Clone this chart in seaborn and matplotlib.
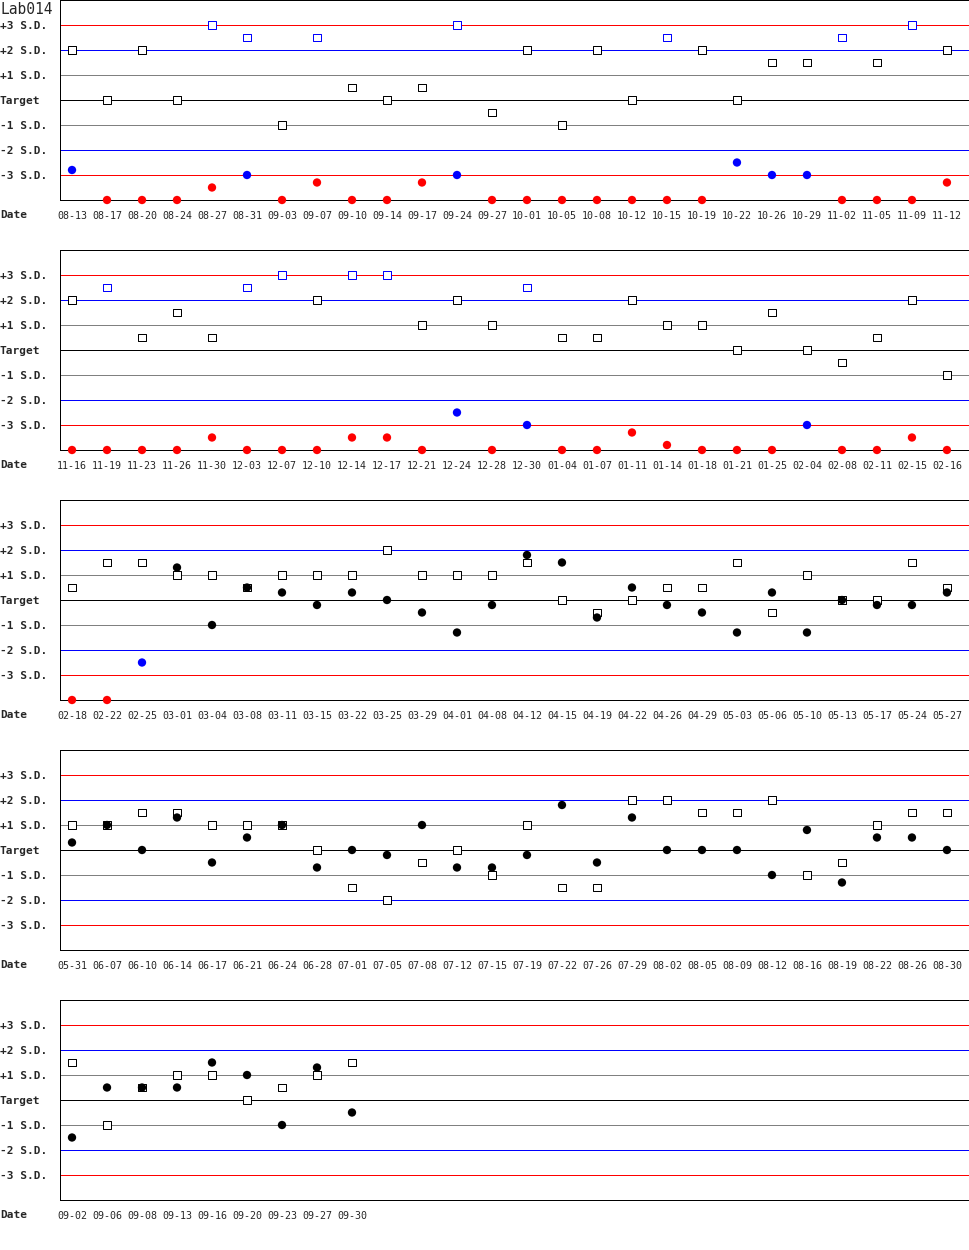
import matplotlib
matplotlib.use("Agg")
import matplotlib.pyplot as plt
import seaborn as sns
import pandas as pd

# control (open squares) and result (dots) in S.D. units, one block per row of the chart
dates1 = ['08-13', '08-17', '08-20', '08-24', '08-27', '08-31', '09-03', '09-07', '09-10',
          '09-14', '09-17', '09-24', '09-27', '10-01', '10-05', '10-08', '10-12', '10-15',
          '10-19', '10-22', '10-26', '10-29', '11-02', '11-05', '11-09', '11-12']
control1 = [2, 0, 2, 0, 3, 2.5, -1, 2.5, 0.5, 0, 0.5, 3, -0.5, 2, -1, 2, 0, 2.5, 2, 0,
            1.5, 1.5, 2.5, 1.5, 3, 2]
result1 = [-2.8, -4, -4, -4, -3.5, -3, -4, -3.3, -4, -4, -3.3, -3, -4, -4, -4, -4, -4, -4,
           -4, -2.5, -3, -3, -4, -4, -4, -3.3]

dates2 = ['11-16', '11-19', '11-23', '11-26', '11-30', '12-03', '12-07', '12-10', '12-14',
          '12-17', '12-21', '12-24', '12-28', '12-30', '01-04', '01-07', '01-11', '01-14',
          '01-18', '01-21', '01-25', '02-04', '02-08', '02-11', '02-15', '02-16']
control2 = [2, 2.5, 0.5, 1.5, 0.5, 2.5, 3, 2, 3, 3, 1, 2, 1, 2.5, 0.5, 0.5, 2, 1, 1, 0,
            1.5, 0, -0.5, 0.5, 2, -1]
result2 = [-4, -4, -4, -4, -3.5, -4, -4, -4, -3.5, -3.5, -4, -2.5, -4, -3, -4, -4, -3.3,
           -3.8, -4, -4, -4, -3, -4, -4, -3.5, -4]

dates3 = ['02-18', '02-22', '02-25', '03-01', '03-04', '03-08', '03-11', '03-15', '03-22',
          '03-25', '03-29', '04-01', '04-08', '04-12', '04-15', '04-19', '04-22', '04-26',
          '04-29', '05-03', '05-06', '05-10', '05-13', '05-17', '05-24', '05-27']
control3 = [0.5, 1.5, 1.5, 1, 1, 0.5, 1, 1, 1, 2, 1, 1, 1, 1.5, 0, -0.5, 0, 0.5, 0.5, 1.5,
            -0.5, 1, 0, 0, 1.5, 0.5]
result3 = [-4, -4, -2.5, 1.3, -1, 0.5, 0.3, -0.2, 0.3, 0, -0.5, -1.3, -0.2, 1.8, 1.5, -0.7,
           0.5, -0.2, -0.5, -1.3, 0.3, -1.3, 0, -0.2, -0.2, 0.3]

dates4 = ['05-31', '06-07', '06-10', '06-14', '06-17', '06-21', '06-24', '06-28', '07-01',
          '07-05', '07-08', '07-12', '07-15', '07-19', '07-22', '07-26', '07-29', '08-02',
          '08-05', '08-09', '08-12', '08-16', '08-19', '08-22', '08-26', '08-30']
control4 = [1, 1, 1.5, 1.5, 1, 1, 1, 0, -1.5, -2, -0.5, 0, -1, 1, -1.5, -1.5, 2, 2, 1.5,
            1.5, 2, -1, -0.5, 1, 1.5, 1.5]
result4 = [0.3, 1, 0, 1.3, -0.5, 0.5, 1, -0.7, 0, -0.2, 1, -0.7, -0.7, -0.2, 1.8, -0.5,
           1.3, 0, 0, 0, -1, 0.8, -1.3, 0.5, 0.5, 0]

dates5 = ['09-02', '09-06', '09-08', '09-13', '09-16', '09-20', '09-23', '09-27', '09-30']
control5 = [1.5, -1, 0.5, 1, 1, 0, 0.5, 1, 1.5]
result5 = [-1.5, 0.5, 0.5, 0.5, 1.5, 1, -1, 1.3, -0.5]

level_ticks = [3, 2, 1, 0, -1, -2, -3]
level_labels = ['+3 S.D.', '+2 S.D.', '+1 S.D.', 'Target', '-1 S.D.', '-2 S.D.', '-3 S.D.']
level_colors = ['#ff0000', '#0000ff', '#808080', '#000000', '#808080', '#0000ff', '#ff0000']
flag_colors = {'ok': '#000000', 'warn': '#0000ff', 'out': '#ff0000'}


def flag(v):
    # within 2 S.D. black, up to 3 S.D. blue, beyond that red
    if abs(v) <= 2:
        return 'ok'
    if abs(v) <= 3:
        return 'warn'
    return 'out'


sns.set_style("white")
plt.rcParams['font.family'] = ['DejaVu Sans Mono']

W, H = 970, 1250
px = 0.72  # one pixel in points at 100 dpi
fig = plt.figure(figsize=(W / 100, H / 100), dpi=100)

panels = [(dates1, control1, result1), (dates2, control2, result2),
          (dates3, control3, result3), (dates4, control4, result4),
          (dates5, control5, result5)]

for i, (dates, control, result) in enumerate(panels):
    top = 250 * i
    ax = fig.add_axes([60 / W, 1 - (top + 200) / H, 909 / W, 200 / H])

    df = pd.DataFrame({'pos': range(len(dates)), 'date': dates,
                       'control': control, 'result': result})
    long = df.melt(id_vars=['pos', 'date'], var_name='series', value_name='sd')
    long['flag'] = long['sd'].map(flag)

    for y, c in zip(level_ticks, level_colors):
        ax.axhline(y, color=c, lw=px, zorder=1)

    sns.scatterplot(data=long[long.series == 'control'], x='pos', y='sd', hue='flag',
                    palette=flag_colors, marker='s', s=32, linewidth=px, legend=False,
                    ax=ax, zorder=3, clip_on=False)
    squares = ax.collections[-1]
    squares.set_edgecolors(squares.get_facecolors())
    squares.set_facecolors('white')

    sns.scatterplot(data=long[long.series == 'result'], x='pos', y='sd', hue='flag',
                    palette=flag_colors, marker='o', s=36, linewidth=0, legend=False,
                    ax=ax, zorder=4, clip_on=False)

    ax.set_xlim(-0.343, 25.63)
    ax.set_ylim(-4, 4)
    ax.set_xticks(range(len(dates)), labels=dates)
    ax.set_yticks(level_ticks, labels=level_labels)
    ax.set_xlabel('')
    ax.set_ylabel('')
    ax.tick_params(axis='x', length=0, pad=8, labelsize=7.2)
    ax.tick_params(axis='y', length=0, pad=43.2, labelsize=8)
    for lab in ax.get_yticklabels():
        lab.set_horizontalalignment('left')
        lab.set_fontweight('bold')
    for sp in ax.spines.values():
        sp.set_visible(True)
        sp.set_color('black')
        sp.set_linewidth(px)
    ax.grid(False)

    fig.text(0, 1 - (top + 215) / H, 'Date', fontsize=8, fontweight='bold',
             ha='left', va='center')

fig.text(0, 1 - 9 / H, 'Lab014', fontsize=10.5, ha='left', va='center')

fig.savefig('out.png', dpi=100)
